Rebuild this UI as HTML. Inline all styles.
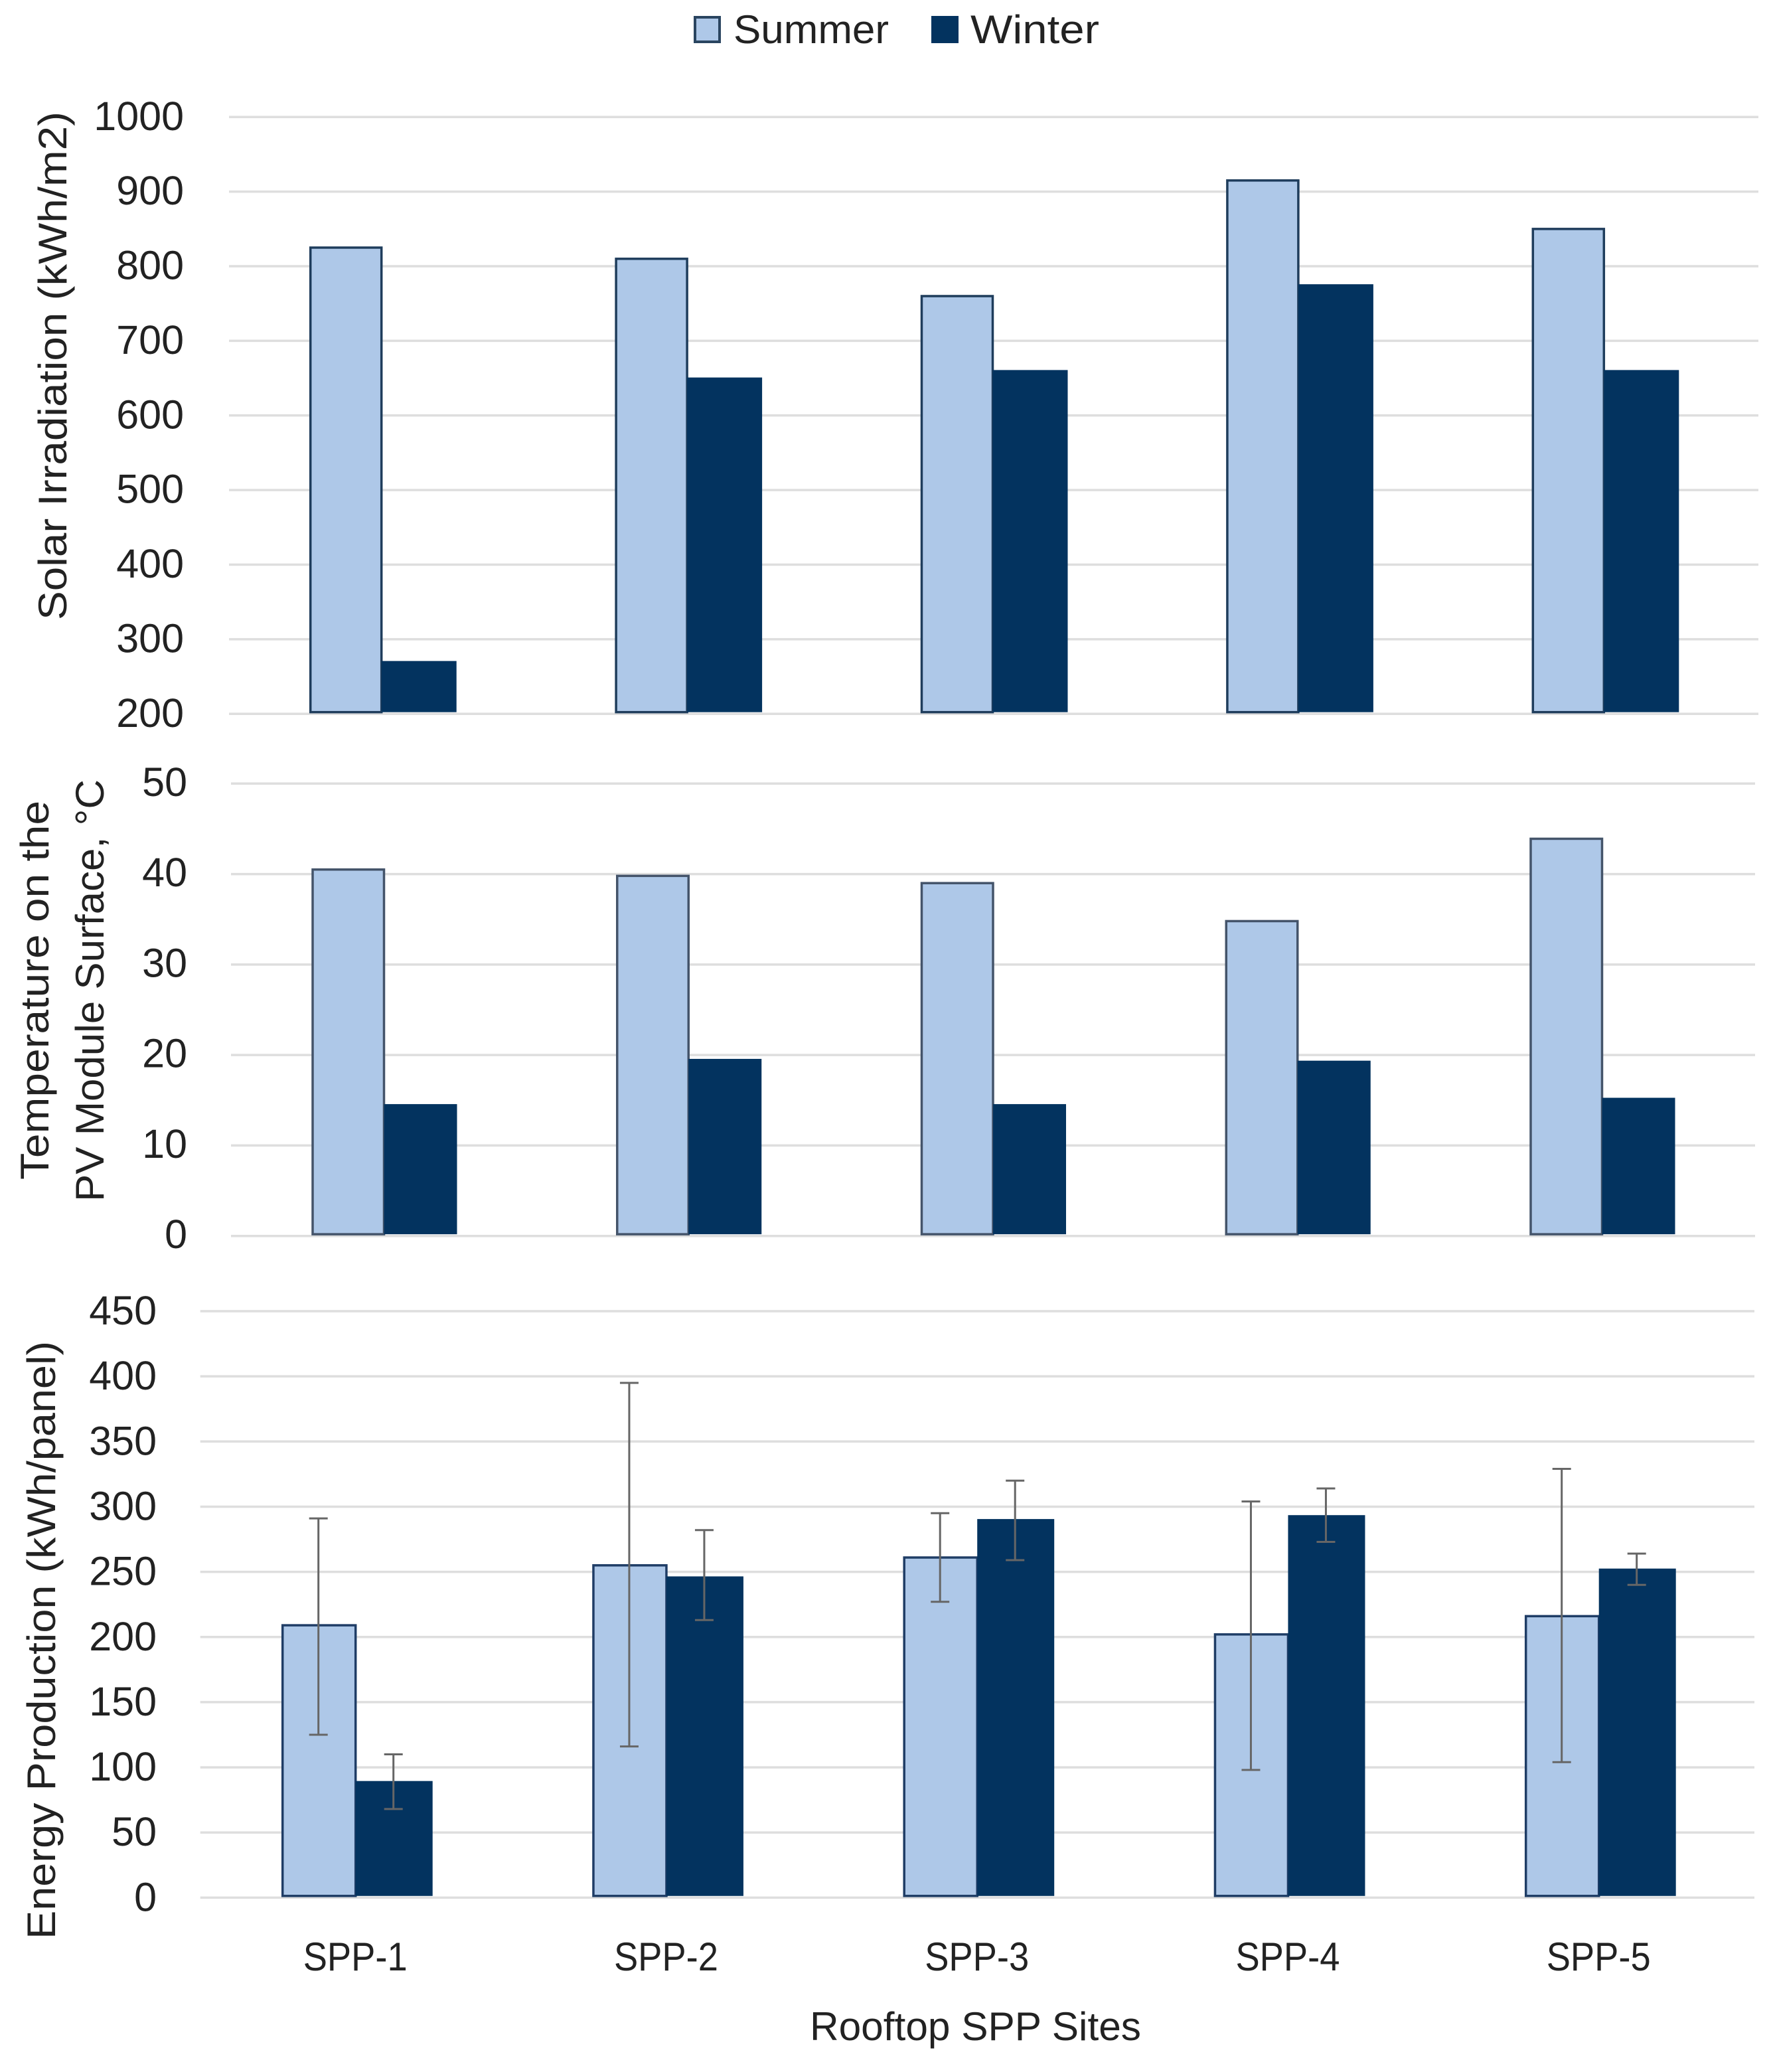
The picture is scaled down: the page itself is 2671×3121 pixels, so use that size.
<!DOCTYPE html>
<html lang="en">
<head>
<meta charset="utf-8">
<title>Rooftop SPP Sites</title>
<style>
html,body{margin:0;padding:0;background:#fff;}
svg{display:block;}
text{font-family:"Liberation Sans",sans-serif;fill:#222;}
</style>
</head>
<body>
<svg id="chart" xmlns="http://www.w3.org/2000/svg" width="2671" height="3121" viewBox="0 0 2671 3121">
  <g>
    <rect x="1047" y="26" width="37" height="37" fill="#aec8e8" stroke="#2a4560" stroke-width="4"/>
    <text x="1105" y="65" font-size="60" textLength="234" lengthAdjust="spacingAndGlyphs">Summer</text>
    <rect x="1405" y="26" width="37" height="37" fill="#03335f" stroke="#03335f" stroke-width="4"/>
    <text x="1462" y="65" font-size="60" textLength="194" lengthAdjust="spacingAndGlyphs">Winter</text>
  </g>
  <text transform="translate(100,934) rotate(-90)" font-size="60" textLength="766" lengthAdjust="spacingAndGlyphs">Solar Irradiation (kWh/m2)</text>
  <text transform="translate(73,1777) rotate(-90)" font-size="60" textLength="571" lengthAdjust="spacingAndGlyphs">Temperature on the</text>
  <text transform="translate(156,1810) rotate(-90)" font-size="60" textLength="636" lengthAdjust="spacingAndGlyphs">PV Module Surface, °C</text>
  <text transform="translate(83,2921) rotate(-90)" font-size="60" textLength="901" lengthAdjust="spacingAndGlyphs">Energy Production (kWh/panel)</text>
  <text x="1220" y="3073" font-size="60" textLength="499" lengthAdjust="spacingAndGlyphs">Rooftop SPP Sites</text>
  <g id="plots"></g>
</svg>
<script>
const categories = ["SPP-1", "SPP-2", "SPP-3", "SPP-4", "SPP-5"];

const irradiationTicks = [200, 300, 400, 500, 600, 700, 800, 900, 1000];
const irradiationSummer = [825, 810, 760, 915, 850];
const irradiationWinter = [270, 650, 660, 775, 660];

const temperatureTicks = [0, 10, 20, 30, 40, 50];
const temperatureSummer = [40.5, 39.8, 39, 34.8, 43.9];
const temperatureWinter = [14.5, 19.5, 14.5, 19.3, 15.2];

const energyTicks = [0, 50, 100, 150, 200, 250, 300, 350, 400, 450];
const energySummer = [209, 255, 261, 202, 216];
const energyWinter = [89, 246, 290, 293, 252];
const energySummerHigh = [291, 395, 295, 304, 329];
const energySummerLow = [125, 116, 227, 98, 104];
const energyWinterHigh = [110, 282, 320, 314, 264];
const energyWinterLow = [68, 213, 259, 273, 240];

const NS = "http://www.w3.org/2000/svg";
const plots = document.getElementById("plots");

function make(tag, attrs, parent) {
  const el = document.createElementNS(NS, tag);
  for (const k in attrs) el.setAttribute(k, attrs[k]);
  parent.appendChild(el);
  return el;
}

function drawPanel(cfg) {
  const group = make("g", {}, plots);
  
  
  const lo = cfg.ticks[0];
  const hi = cfg.ticks[cfg.ticks.length - 1];
  const yScale = v => cfg.yBottom + (v - lo) / (hi - lo) * (cfg.yTop - cfg.yBottom);
  const xScale = i => cfg.xStart + i * cfg.step;

  cfg.ticks.forEach(t => {
    const line = make("line", {x1: cfg.gridLeft, x2: cfg.gridRight, y1: yScale(t), y2: yScale(t), stroke: "#dedede", "stroke-width": 3.5}, group);
    
    
    const label = make("text", {x: cfg.labelRight, y: yScale(t) + cfg.labelDy, "font-size": 61, "text-anchor": "end"}, group);
    
    
    label.textContent = t;
  });

  categories.forEach((c, i) => {
    const x = xScale(i);
    const ys = yScale(cfg.summer[i]);
    const yw = yScale(cfg.winter[i]);
    const base = yScale(lo) - 2.6;
    const s = make("rect", {x: x, y: ys, width: cfg.summerWidth, height: base - ys, fill: "#aec8e8", stroke: cfg.border, "stroke-width": 3.5}, group);
    
    
    const w = make("rect", {x: x + cfg.summerWidth, y: yw - 1, width: cfg.winterWidth, height: base - yw + 1, fill: "#03335f"}, group);
    
    
  });
  return {group, xScale, yScale};
}

function drawError(panel, cx, high, low) {
  const g = make("g", {stroke: "#666", "stroke-width": 3, fill: "none"}, panel.group);
  
  
  const yh = panel.yScale(high);
  const yl = panel.yScale(low);
  make("line", {x1: cx, x2: cx, y1: yh, y2: yl}, g);
  make("line", {x1: cx - 14, x2: cx + 14, y1: yh, y2: yh}, g);
  make("line", {x1: cx - 14, x2: cx + 14, y1: yl, y2: yl}, g);
}

drawPanel({name: "irradiation", ticks: irradiationTicks, summer: irradiationSummer, winter: irradiationWinter,
  yTop: 176.3, yBottom: 1075.3, gridLeft: 345, gridRight: 2649, labelRight: 277, labelDy: 19.5,
  xStart: 467.7, step: 460.4, summerWidth: 107, winterWidth: 113, border: "#1f3d5c"});

drawPanel({name: "temperature", ticks: temperatureTicks, summer: temperatureSummer, winter: temperatureWinter,
  yTop: 1180.3, yBottom: 1861.7, gridLeft: 348, gridRight: 2644, labelRight: 282, labelDy: 18.5,
  xStart: 471, step: 458.75, summerWidth: 107.5, winterWidth: 110, border: "#44546a"});

const energyPanel = drawPanel({name: "energy", ticks: energyTicks, summer: energySummer, winter: energyWinter,
  yTop: 1975, yBottom: 2858.4, gridLeft: 301.7, gridRight: 2643, labelRight: 236, labelDy: 20,
  xStart: 425.7, step: 468.25, summerWidth: 110, winterWidth: 116, border: "#1f3d66"});

categories.forEach((c, i) => {
  const x = energyPanel.xScale(i);
  drawError(energyPanel, x + 54, energySummerHigh[i], energySummerLow[i]);
  drawError(energyPanel, x + 167, energyWinterHigh[i], energyWinterLow[i]);
  const label = make("text", {x: x + 109.5, y: 2968, "font-size": 60, "text-anchor": "middle", textLength: 157, lengthAdjust: "spacingAndGlyphs"}, energyPanel.group);
  
  
  label.textContent = c;
});
</script>
</body>
</html>
